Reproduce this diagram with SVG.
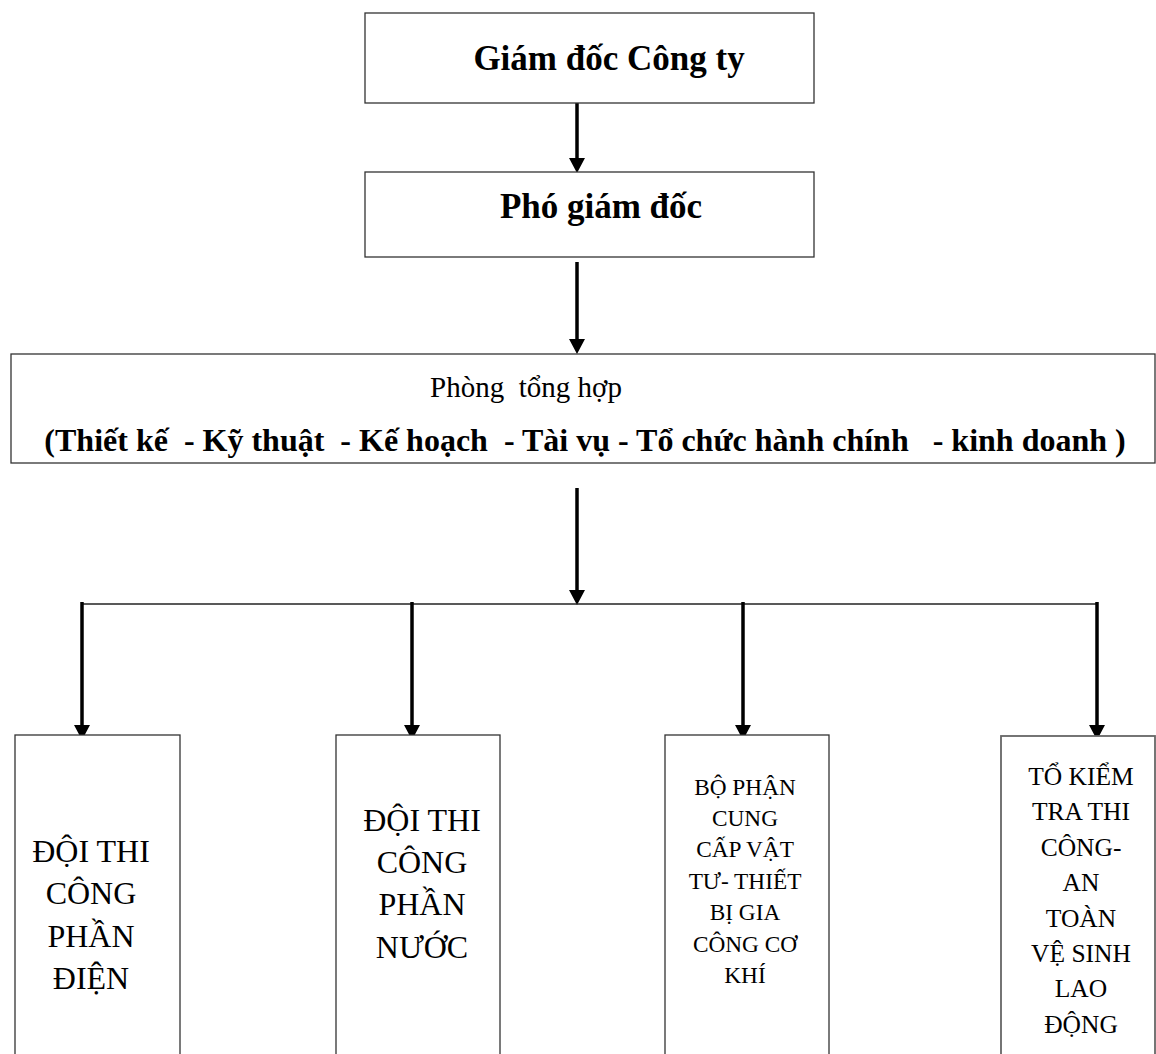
<svg xmlns="http://www.w3.org/2000/svg" width="1156" height="1054" viewBox="0 0 1156 1054">
<defs>
<marker id="ah" markerWidth="15" markerHeight="16" refX="0" refY="8" orient="auto" markerUnits="userSpaceOnUse" viewBox="0 0 15 16">
<path d="M0,0 L15,8 L0,16 Z" fill="#000"/>
</marker>
<style>
.box{fill:#fff;stroke:#333;stroke-width:1.3}
.t{font-family:"Liberation Serif","Times New Roman",serif;fill:#000;text-anchor:middle;white-space:pre}
.b{font-weight:bold}
.arr{stroke:#000;stroke-width:3.5;fill:none}
.bus{stroke:#222;stroke-width:1.5;fill:none}
</style>
</defs>
<rect width="1156" height="1054" fill="#fff"/>

<g id="connectors">
<line class="arr" x1="577" y1="103" x2="577" y2="158" marker-end="url(#ah)"/>
<line class="arr" x1="577" y1="262" x2="577" y2="339" marker-end="url(#ah)"/>
<line class="arr" x1="577" y1="488" x2="577" y2="590" marker-end="url(#ah)"/>
<line class="bus" x1="82" y1="604" x2="1098" y2="604"/>
<line class="arr" x1="82" y1="602" x2="82" y2="725" marker-end="url(#ah)"/>
<line class="arr" x1="412" y1="602" x2="412" y2="725" marker-end="url(#ah)"/>
<line class="arr" x1="743" y1="602" x2="743" y2="725" marker-end="url(#ah)"/>
<line class="arr" x1="1097" y1="602" x2="1097" y2="725" marker-end="url(#ah)"/>
</g>

<g id="giam-doc">
<rect class="box" x="365" y="13" width="449" height="90"/>
<text class="t b" x="609" y="70" font-size="35">Giám đốc Công ty</text>
</g>

<g id="pho-giam-doc">
<rect class="box" x="365" y="172" width="449" height="85"/>
<text class="t b" x="601" y="218" font-size="35">Phó giám đốc</text>
</g>

<g id="phong-tong-hop">
<rect class="box" x="11" y="354" width="1144" height="109"/>
<text class="t" x="526" y="397" font-size="29">Phòng  tổng hợp</text>
<text class="t b" x="585" y="451" font-size="32">(Thiết kế  - Kỹ thuật  - Kế hoạch  - Tài vụ - Tổ chức hành chính   - kinh doanh )</text>
</g>

<g id="doi-dien">
<rect class="box" x="15" y="735" width="165" height="330"/>
<text class="t" x="91" font-size="32"><tspan x="91" y="862">ĐỘI THI</tspan><tspan x="91" y="904">CÔNG</tspan><tspan x="91" y="947">PHẦN</tspan><tspan x="91" y="989">ĐIỆN</tspan></text>
</g>

<g id="doi-nuoc">
<rect class="box" x="336" y="735" width="164" height="330"/>
<text class="t" x="422" font-size="32"><tspan x="422" y="831">ĐỘI THI</tspan><tspan x="422" y="873">CÔNG</tspan><tspan x="422" y="915">PHẦN</tspan><tspan x="422" y="958">NƯỚC</tspan></text>
</g>

<g id="bo-phan-cung-cap">
<rect class="box" x="665" y="735" width="164" height="330"/>
<text class="t" x="745" font-size="23.3"><tspan x="745" y="795">BỘ PHẬN</tspan><tspan x="745" y="826">CUNG</tspan><tspan x="745" y="857">CẤP VẬT</tspan><tspan x="745" y="889">TƯ- THIẾT</tspan><tspan x="745" y="920">BỊ GIA</tspan><tspan x="745" y="952">CÔNG CƠ</tspan><tspan x="745" y="983">KHÍ</tspan></text>
</g>

<g id="to-kiem-tra">
<rect class="box" x="1001" y="736" width="154" height="330" style="stroke:#666;stroke-width:1.8"/>
<text class="t" x="1081" font-size="25.5"><tspan x="1081" y="785">TỔ KIỂM</tspan><tspan x="1081" y="820">TRA THI</tspan><tspan x="1081" y="856">CÔNG-</tspan><tspan x="1081" y="891">AN</tspan><tspan x="1081" y="927">TOÀN</tspan><tspan x="1081" y="962">VỆ SINH</tspan><tspan x="1081" y="997">LAO</tspan><tspan x="1081" y="1033">ĐỘNG</tspan></text>
</g>
</svg>
